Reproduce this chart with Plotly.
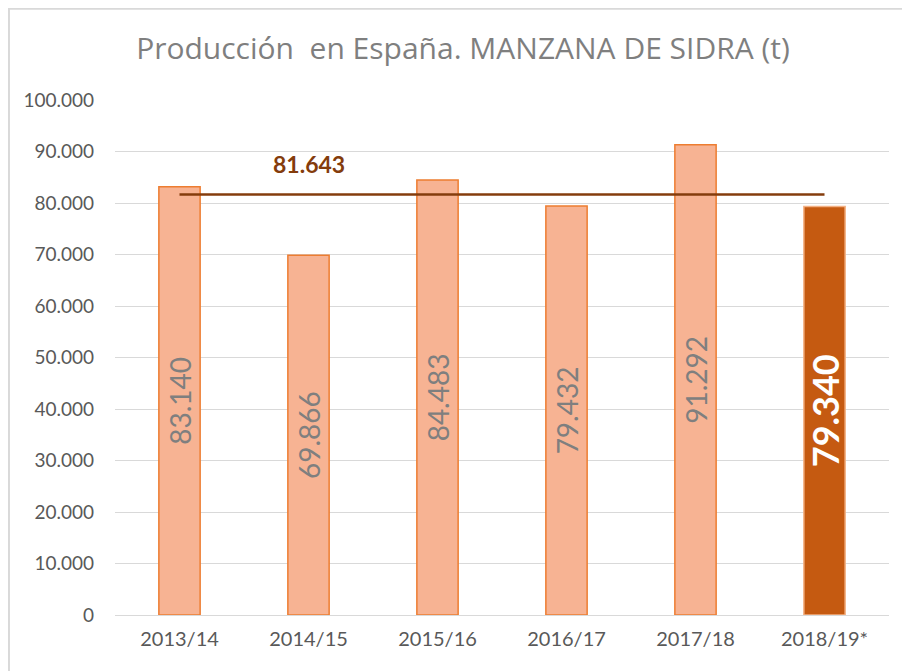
import plotly.graph_objects as go

campaigns = ["2013/14", "2014/15", "2015/16", "2016/17", "2017/18", "2018/19*"]
production = [83140, 69866, 84483, 79432, 91292, 79340]
average_value = 81643
y_ticks = [0, 10000, 20000, 30000, 40000, 50000, 60000, 70000, 80000, 90000, 100000]


def fmt(v):
    return f"{v:,}".replace(",", ".")


fill_colors = ["#F7B393"] * 5 + ["#C55A11"]
line_colors = ["#ED7D31"] * 5 + ["#F4B183"]
label_texts = [fmt(v) for v in production[:-1]] + [""]

fig = go.Figure()
fig.add_trace(go.Bar(
    x=campaigns, y=production,
    marker=dict(color=fill_colors, line=dict(color=line_colors, width=1.5)),
    width=0.32,
    text=label_texts, textposition="inside", textangle=-90,
    insidetextanchor="middle",
    textfont=dict(color="#7F7F7F", size=28, family="Lato, Open Sans, sans-serif"),
    hoverinfo="x+y",
    showlegend=False,
))
fig.add_trace(go.Scatter(
    x=[campaigns[0], campaigns[-1]], y=[average_value, average_value],
    mode="lines", line=dict(color="#843C0C", width=2.5),
    showlegend=False, hoverinfo="y",
))
# highlighted label of the last campaign
fig.add_annotation(
    x=campaigns[-1], y=production[-1] / 2, xref="x", yref="y",
    text="<b>" + fmt(production[-1]) + "</b>", textangle=-90,
    showarrow=False, xanchor="center", yanchor="middle",
    font=dict(color="#FFFFFF", size=36, family="Lato, Open Sans, sans-serif"),
)
fig.add_annotation(
    x=campaigns[1], y=average_value, xref="x", yref="y",
    text="<b>" + fmt(average_value) + "</b>",
    showarrow=False, yanchor="bottom", yshift=15,
    font=dict(color="#843C0C", size=23, family="Lato, Open Sans, sans-serif"),
)
# outer frame
fig.add_shape(type="rect", xref="paper", yref="paper",
              x0=-0.137, x1=1.06, y0=-0.2, y1=1.177,
              line=dict(color="#D9D9D9", width=2), fillcolor="rgba(0,0,0,0)", layer="below")

fig.update_layout(
    width=910, height=671,
    paper_bgcolor="white", plot_bgcolor="white",
    margin=dict(l=107, r=29, t=92, b=64, autoexpand=False),
    separators=",.",
    bargap=0.68,
    title=dict(text="Producción  en España. MANZANA DE SIDRA (t)", x=0.5, xanchor="center",
               y=0.94, yanchor="middle",
               font=dict(color="#7F7F7F", size=30, family="Open Sans, sans-serif")),
    font=dict(family="Lato, Open Sans, sans-serif", color="#595959"),
    xaxis=dict(showgrid=False, showline=False, ticks="", automargin=False,
               tickfont=dict(size=20, color="#595959"), ticklabelstandoff=10),
    yaxis=dict(range=[0, 100000], tickvals=y_ticks, tickformat=",d", automargin=False,
               showgrid=True, gridcolor="#D9D9D9", gridwidth=1,
               zeroline=True, zerolinecolor="#D9D9D9", zerolinewidth=1,
               showline=False, ticks="",
               tickfont=dict(size=19, color="#595959"), ticklabelstandoff=20),
)

fig.write_html("out.html")
